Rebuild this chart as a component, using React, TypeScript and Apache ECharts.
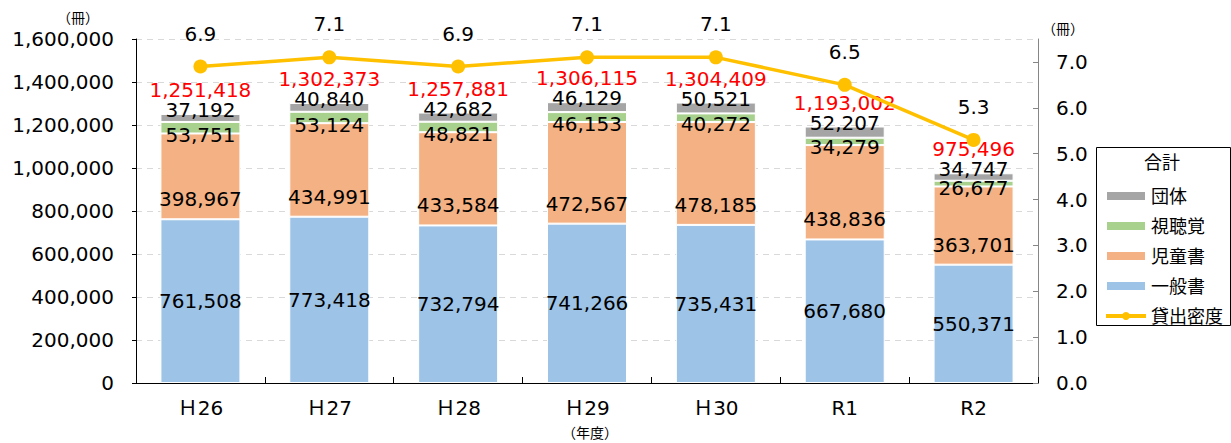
import React, { useEffect, useRef } from 'react';
import * as echarts from 'echarts';

const categories = ['Ｈ26', 'Ｈ27', 'Ｈ28', 'Ｈ29', 'Ｈ30', 'R1', 'R2'];
const generalBooks = [761508, 773418, 732794, 741266, 735431, 667680, 550371];
const childrenBooks = [398967, 434991, 433584, 472567, 478185, 438836, 363701];
const audiovisual = [53751, 53124, 48821, 46153, 40272, 34279, 26677];
const groupLoans = [37192, 40840, 42682, 46129, 50521, 52207, 34747];
const totals = [1251418, 1302373, 1257881, 1306115, 1304409, 1193002, 975496];
const density = [6.9, 7.1, 6.9, 7.1, 7.1, 6.5, 5.3];
const seriesNames = ['一般書', '児童書', '視聴覚', '団体', '貸出密度'];
const legendOrder = ['団体', '視聴覚', '児童書', '一般書', '貸出密度'];

const FONT = '"DejaVu Sans", "Noto Sans CJK JP", sans-serif';
const fmt = (v: number) => v.toLocaleString('en-US');

export default function App() {
  const ref = useRef<HTMLDivElement>(null);
  useEffect(() => {
    document.body.style.margin = '0';
    const chart = echarts.init(ref.current!, null, { renderer: 'svg' });
    const labelBase = { show: true, color: '#000', fontSize: 20, fontFamily: FONT, lineHeight: 20 };
    const barBase = { type: 'bar', stack: 'total', barWidth: 80, yAxisIndex: 0 };
    chart.setOption({
      animation: false,
      textStyle: { fontFamily: FONT },
      grid: { left: 136, right: 193, top: 39, bottom: 60 },
      xAxis: {
        type: 'category',
        data: categories,
        axisLine: { lineStyle: { color: '#000', width: 1 } },
        axisTick: { show: true, inside: true, length: 6, lineStyle: { color: '#000' } },
        axisLabel: { color: '#000', fontSize: 20, margin: 15, fontFamily: FONT },
      },
      yAxis: [
        {
          type: 'value', min: 0, max: 1600000, interval: 200000,
          axisLine: { show: true, lineStyle: { color: '#000' } },
          axisTick: { show: true, length: 4, lineStyle: { color: '#000' } },
          axisLabel: { color: '#000', fontSize: 20, margin: 22, fontFamily: FONT, formatter: (v: number) => fmt(v) },
          splitLine: { show: true, lineStyle: { color: '#d9d9d9', type: [6, 5], width: 1.2 } },
        },
        {
          type: 'value', min: 0, max: 7.5, interval: 1,
          axisLine: { show: true, lineStyle: { color: '#868686' } },
          axisTick: { show: true, inside: true, length: 5, lineStyle: { color: '#868686' } },
          axisLabel: { color: '#000', fontSize: 20, margin: 18, fontFamily: FONT, showMaxLabel: false, formatter: (v: number) => v.toFixed(1) },
          splitLine: { show: false },
        },
      ],
      legend: {
        orient: 'vertical',
        left: 1099,
        top: 181,
        itemWidth: 40,
        itemHeight: 10,
        itemGap: 10,
        textStyle: { color: '#000', fontSize: 18, fontFamily: FONT, lineHeight: 20 },
        data: legendOrder.map((n) =>
          n === '貸出密度' ? { name: n, lineStyle: { width: 4 } } : { name: n, icon: 'rect' }
        ),
      },
      graphic: [
        { type: 'rect', left: 1094, top: 145, shape: { width: 134, height: 178 }, style: { fill: 'none', stroke: '#000', lineWidth: 1 }, z: 10 },
        { type: 'text', x: 1162, y: 162, style: { text: '合計', font: `18px ${FONT}`, fill: '#000', align: 'center', verticalAlign: 'middle' } },
        { type: 'text', x: 78, y: 18, style: { text: '（冊）', font: `14px ${FONT}`, fill: '#000', align: 'center', verticalAlign: 'middle' } },
        { type: 'text', x: 1063, y: 29, style: { text: '（冊）', font: `14px ${FONT}`, fill: '#000', align: 'center', verticalAlign: 'middle' } },
        { type: 'text', x: 590, y: 433, style: { text: '（年度）', font: `14px ${FONT}`, fill: '#000', align: 'center', verticalAlign: 'middle' } },
      ],
      series: [
        {
          ...barBase, name: seriesNames[0], data: generalBooks,
          itemStyle: { color: '#9DC3E6', borderColor: '#fff', borderWidth: 1 },
          label: { ...labelBase, position: 'inside', formatter: (p: any) => fmt(p.value) },
        },
        {
          ...barBase, name: seriesNames[1], data: childrenBooks,
          itemStyle: { color: '#F4B183', borderColor: '#fff', borderWidth: 1 },
          label: { ...labelBase, position: 'insideBottom', distance: 10, formatter: (p: any) => fmt(p.value) },
        },
        {
          ...barBase, name: seriesNames[2], data: audiovisual,
          itemStyle: { color: '#A9D18E', borderColor: '#fff', borderWidth: 1 },
          label: { ...labelBase, position: 'insideBottom', distance: 0, offset: [0, 12], formatter: (p: any) => fmt(p.value) },
        },
        {
          ...barBase, name: seriesNames[3], data: groupLoans,
          itemStyle: { color: '#A5A5A5', borderColor: '#fff', borderWidth: 1 },
          label: {
            ...labelBase, position: 'top', distance: 0, offset: [0, 6],
            formatter: (p: any) => `{t|${fmt(totals[p.dataIndex])}}\n{v|${fmt(p.value)}}`,
            rich: {
              t: { color: '#FF0000', fontSize: 20, fontFamily: FONT, lineHeight: 20 },
              v: { color: '#000', fontSize: 20, fontFamily: FONT, lineHeight: 20 },
            },
          },
        },
        {
          type: 'line', name: seriesNames[4], data: density, yAxisIndex: 1, z: 5,
          symbol: 'circle', symbolSize: 14,
          lineStyle: { color: '#FFC000', width: 3.5 },
          itemStyle: { color: '#FFC000' },
          label: { ...labelBase, position: 'top', distance: 16, formatter: (p: any) => p.value.toFixed(1) },
        },
      ],
    });
    return () => chart.dispose();
  }, []);
  return <div ref={ref} style={{ width: 1231, height: 443, position: 'absolute', left: 0, top: 0 }} />;
}
